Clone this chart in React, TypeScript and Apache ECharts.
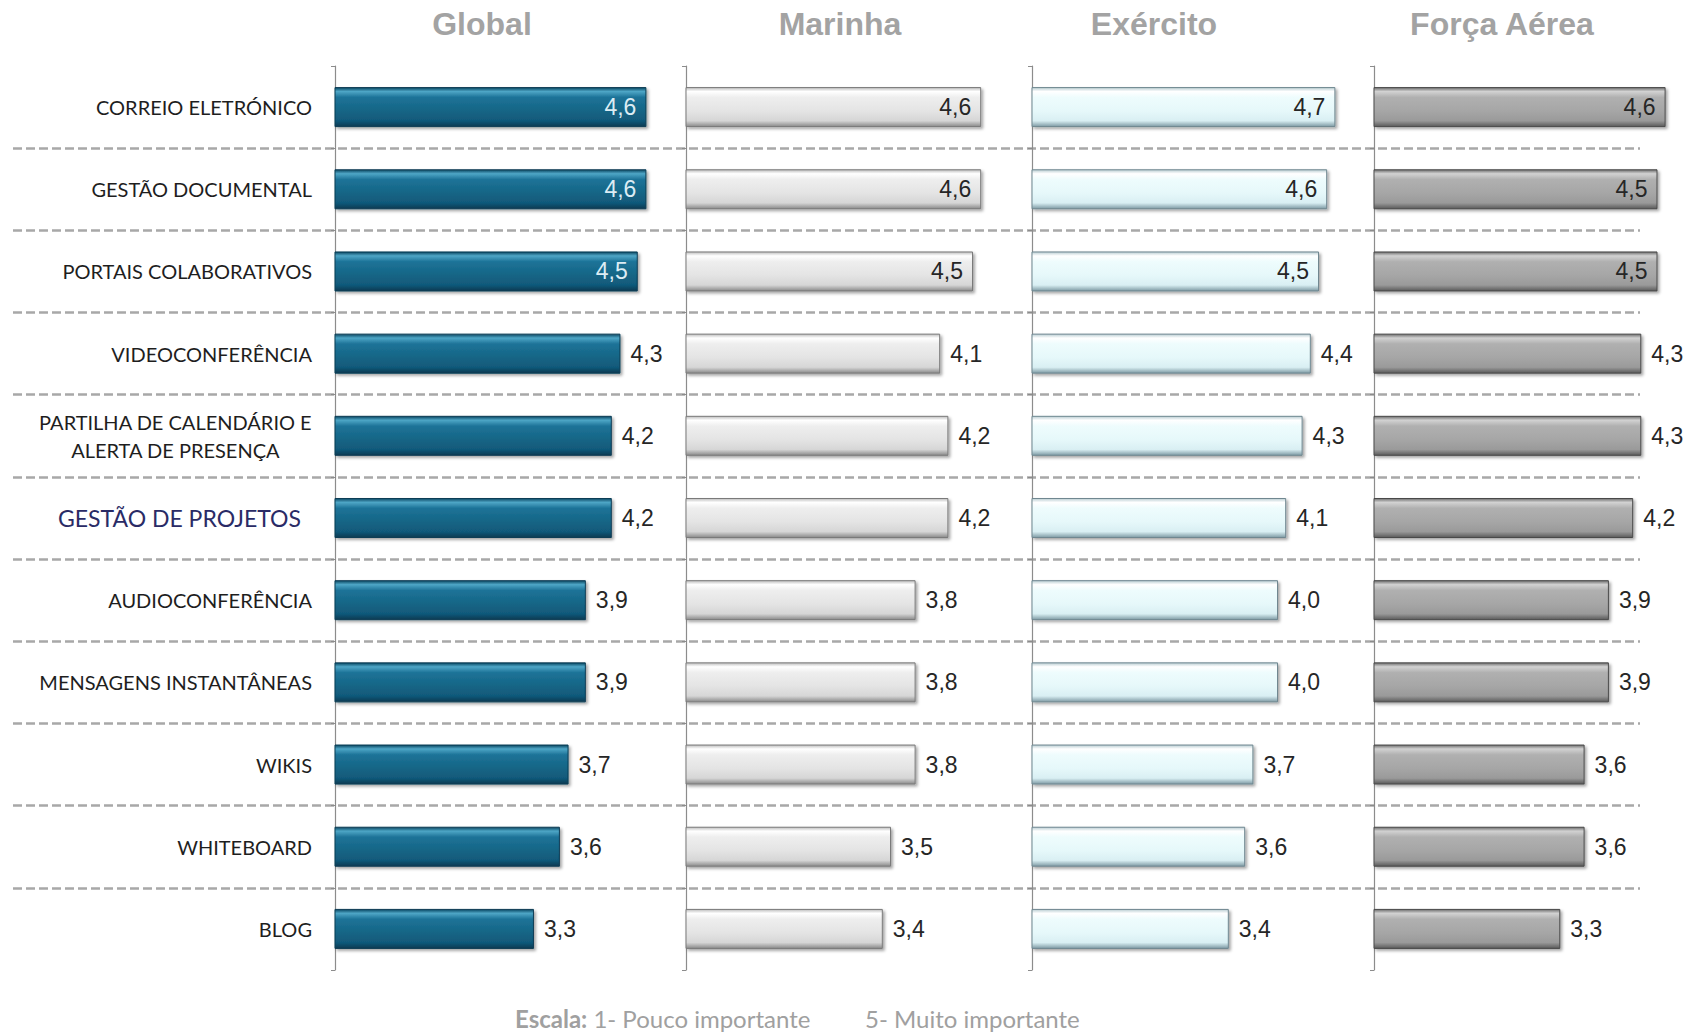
import React, { useEffect, useRef } from "react";
import * as echarts from "echarts";

const categories = [
  "CORREIO ELETRÓNICO",
  "GESTÃO DOCUMENTAL",
  "PORTAIS COLABORATIVOS",
  "VIDEOCONFERÊNCIA",
  "PARTILHA DE CALENDÁRIO E\nALERTA DE PRESENÇA",
  "GESTÃO DE PROJETOS",
  "AUDIOCONFERÊNCIA",
  "MENSAGENS INSTANTÂNEAS",
  "WIKIS",
  "WHITEBOARD",
  "BLOG",
];

const panelTitles = ["Global", "Marinha", "Exército", "Força Aérea"];

const globalValues = [4.6, 4.6, 4.5, 4.3, 4.2, 4.2, 3.9, 3.9, 3.7, 3.6, 3.3];
const marinhaValues = [4.6, 4.6, 4.5, 4.1, 4.2, 4.2, 3.8, 3.8, 3.8, 3.5, 3.4];
const exercitoValues = [4.7, 4.6, 4.5, 4.4, 4.3, 4.1, 4.0, 4.0, 3.7, 3.6, 3.4];
const forcaAereaValues = [4.6, 4.5, 4.5, 4.3, 4.3, 4.2, 3.9, 3.9, 3.6, 3.6, 3.3];

const scaleMin = 1;
const scaleMax = 5;
const scaleLow = "1- Pouco importante";
const scaleHigh = "5- Muito importante";

const allValues = [globalValues, marinhaValues, exercitoValues, forcaAereaValues];

// layout (pixels)
const TOP = 66;
const HEIGHT = 904;
const panels = [
  { left: 335, width: 346, titleX: 482 },
  { left: 686, width: 328, titleX: 840 },
  { left: 1032, width: 328, titleX: 1154 },
  { left: 1374, width: 328, titleX: 1502 },
];

const barStyles = [
  {
    stops: ["#0b4762", "#4ea6c6", "#1d7398", "#156585", "#11597a", "#093a52"],
    border: "#0a3d55",
    inside: "#dcecf4",
  },
  {
    stops: ["#bdbdbd", "#ffffff", "#eeeeee", "#e4e4e4", "#d6d6d6", "#8a8a8a"],
    border: "#7a7a7a",
    inside: "#262626",
  },
  {
    stops: ["#b9cdd2", "#ffffff", "#eefcfd", "#e6f8fa", "#d9eff3", "#7e9aa4"],
    border: "#6f8790",
    inside: "#262626",
  },
  {
    stops: ["#6e6e6e", "#d2d2d2", "#b0b0b0", "#a6a6a6", "#9a9a9a", "#5a5a5a"],
    border: "#4a4a4a",
    inside: "#262626",
  },
];

const fmt = (v: number) => v.toFixed(1).replace(".", ",");

export default function App() {
  const ref = useRef<HTMLDivElement>(null);

  useEffect(() => {
    if (!ref.current) return;
    const chart = echarts.init(ref.current, null, { renderer: "svg" });

    const grids: any[] = [
      { left: 13, width: 1627, top: TOP, height: HEIGHT, containLabel: false },
    ];
    const xAxes: any[] = [{ gridIndex: 0, type: "value", show: false, min: 0, max: 1 }];
    const yAxes: any[] = [
      {
        gridIndex: 0,
        type: "category",
        data: categories,
        inverse: true,
        axisLine: { show: false },
        axisTick: { show: false },
        axisLabel: { show: false },
        splitLine: {
          show: true,
          showMinLine: false,
          showMaxLine: false,
          lineStyle: { color: "#a8a8a8", width: 2.5, type: [9, 4] },
        },
      },
    ];
    const series: any[] = [];

    panels.forEach((p, i) => {
      const gi = i + 1;
      grids.push({ left: p.left, width: p.width, top: TOP, height: HEIGHT });
      xAxes.push({
        gridIndex: gi,
        type: "value",
        min: scaleMin,
        max: scaleMax,
        show: false,
      });
      yAxes.push({
        gridIndex: gi,
        type: "category",
        data: categories,
        inverse: true,
        axisLine: { show: true, lineStyle: { color: "#8c8c8c", width: 1.2 } },
        axisTick: { show: true, length: 4, lineStyle: { color: "#8c8c8c" } },
        splitLine: { show: false },
        axisLabel:
          i === 0
            ? {
                show: true,
                margin: 23,
                formatter: (v: string) => {
                  if (v.includes("\n"))
                    return v
                      .split("\n")
                      .map((l) => `{c|${l}}`)
                      .join("\n");
                  if (v === "GESTÃO DE PROJETOS") return `{p|${v}}`;
                  return `{n|${v}}`;
                },
                rich: {
                  n: { fontFamily: "Lato", fontSize: 20, color: "#1e1e1e" },
                  c: {
                    fontFamily: "Lato",
                    fontSize: 20,
                    color: "#1e1e1e",
                    align: "center",
                    lineHeight: 28,
                  },
                  p: {
                    fontFamily: "Lato",
                    fontSize: 23,
                    color: "#2a2b66",
                    padding: [0, 11, 0, 0],
                  },
                },
              }
            : { show: false },
      });
      const st = barStyles[i];
      series.push({
        type: "bar",
        xAxisIndex: gi,
        yAxisIndex: gi,
        barWidth: 40,
        data: allValues[i].map((v, k) => ({
          value: v,
          label:
            k < 3
              ? { position: "insideRight", distance: 10, color: st.inside }
              : { position: "right", distance: 10, color: "#262626" },
        })),
        label: {
          show: true,
          fontFamily: "Liberation Sans",
          fontSize: 23,
          formatter: (prm: any) => fmt(prm.value),
        },
        itemStyle: {
          color: {
            type: "linear",
            x: 0,
            y: 0,
            x2: 0,
            y2: 1,
            colorStops: [
              { offset: 0, color: st.stops[0] },
              { offset: 0.1, color: st.stops[1] },
              { offset: 0.25, color: st.stops[2] },
              { offset: 0.6, color: st.stops[3] },
              { offset: 0.85, color: st.stops[4] },
              { offset: 1, color: st.stops[5] },
            ],
          },
          borderColor: st.border,
          borderWidth: 1,
          shadowColor: "rgba(0,0,0,0.35)",
          shadowBlur: 3,
          shadowOffsetX: 2,
          shadowOffsetY: 2,
        },
      });
    });

    const graphics: any[] = panels.map((p, i) => ({
      type: "text",
      x: p.titleX,
      y: 24,
      style: {
        text: panelTitles[i],
        align: "center",
        verticalAlign: "middle",
        fontFamily: "Liberation Sans",
        fontWeight: "bold",
        fontSize: 32,
        fill: "#a3a3a3",
      },
    }));
    graphics.push({
      type: "text",
      x: 515,
      y: 1018,
      style: {
        text: `{b|Escala:} ${scaleLow}`,
        verticalAlign: "middle",
        rich: {
          b: { fontFamily: "Lato", fontSize: 24, fontWeight: "bold", fill: "#a0a0a0", color: "#a0a0a0" },
        },
        fontFamily: "Lato",
        fontSize: 24,
        fill: "#a0a0a0",
      },
    });
    graphics.push({
      type: "text",
      x: 865,
      y: 1018,
      style: {
        text: scaleHigh,
        verticalAlign: "middle",
        fontFamily: "Lato",
        fontSize: 24,
        fill: "#a0a0a0",
      },
    });

    chart.setOption({
      animation: false,
      backgroundColor: "#ffffff",
      grid: grids,
      xAxis: xAxes,
      yAxis: yAxes,
      series,
      graphic: graphics,
    });

    return () => chart.dispose();
  }, []);

  return (
    <div
      ref={ref}
      style={{ position: "fixed", left: 0, top: 0, width: 1698, height: 1033 }}
    />
  );
}
